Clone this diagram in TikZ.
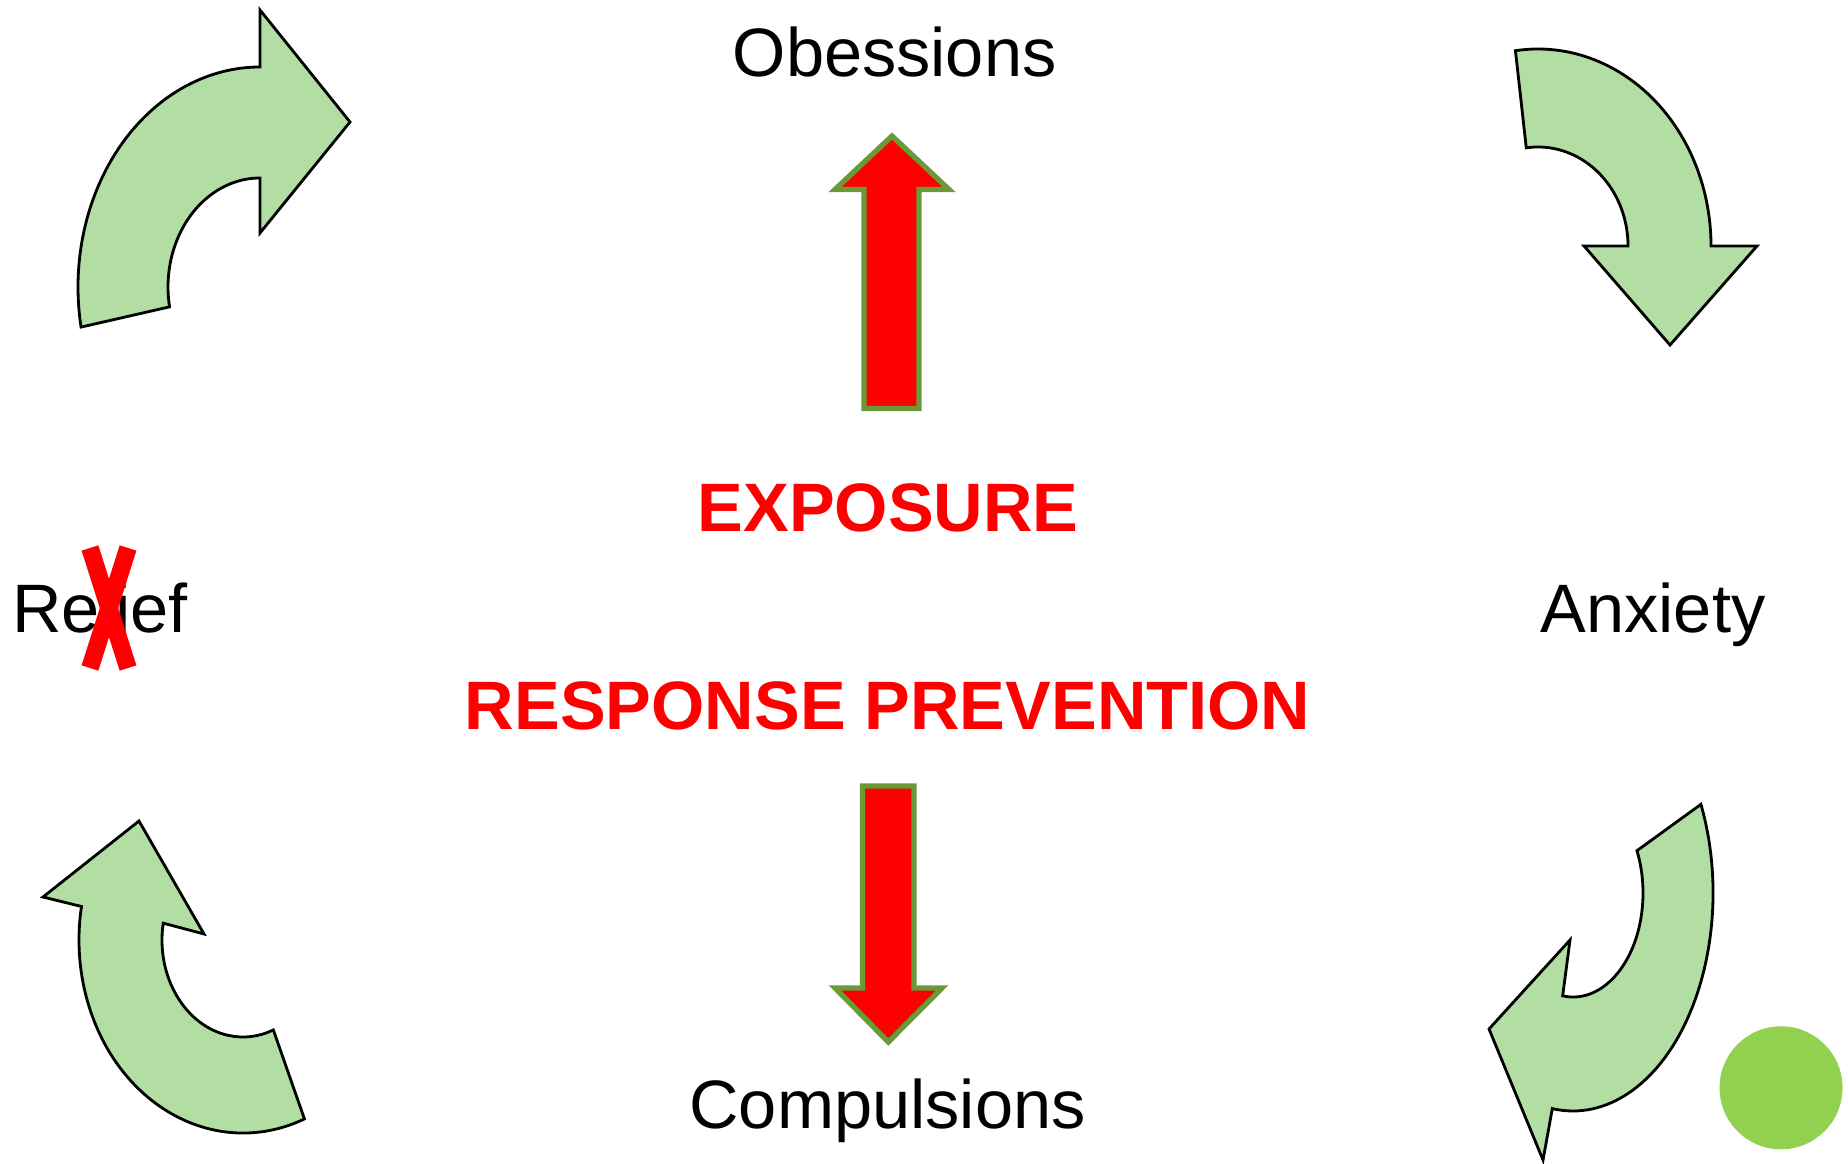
\documentclass[tikz,border=0pt]{standalone}
\usepackage{fontspec}
\setmainfont{Liberation Sans}
\usepackage{tikz}
\usetikzlibrary{calc}

\definecolor{loopgreen}{RGB}{178,222,163}
\definecolor{dotgreen}{RGB}{146,208,80}
\definecolor{rimgreen}{RGB}{107,153,56}

\begin{document}
\begin{tikzpicture}[
	looparrow/.style={fill=loopgreen, draw=black, line width=0.8pt, line join=miter},
	redarrow/.style={fill=red, draw=rimgreen, line width=1.5pt, line join=miter},
	word/.style={font=\fontsize{19.5pt}{23pt}\selectfont, anchor=base, inner sep=0pt},
	redword/.style={word, font=\fontsize{19.5pt}{23pt}\selectfont\bfseries, text=red}
	]
	        \useasboundingbox (0,0) rectangle (18.48,11.63);
	        \coordinate (C1) at (2.60,8.76); % top left loop
	        \coordinate (C2) at (15.38,9.17); % top right loop
	        \coordinate (C3) at (2.43,2.23); % bottom left loop
	        \coordinate (C4) at (15.73,2.70); % bottom right loop
	        \draw[looparrow] ($(C1)+(190.5:1.82 and 2.20)$) arc[start angle=190.5, end angle=90, x radius=1.82, y radius=2.20]
	            -- (2.60,11.53) -- (3.50,10.41) -- (2.60,9.30)
	            -- ($(C1)+(90:0.92 and 1.09)$) arc[start angle=90, end angle=190.5, x radius=0.92, y radius=1.09] -- cycle;
	        \draw[looparrow] ($(C2)+(97.5:1.73 and 1.97)$) arc[start angle=97.5, end angle=0, x radius=1.73, y radius=1.97]
	            -- (17.57,9.17) -- (16.70,8.18) -- (15.84,9.17)
	            -- ($(C2)+(0:0.90 and 0.99)$) arc[start angle=0, end angle=97.5, x radius=0.90, y radius=0.99] -- cycle;
	        \draw[looparrow] ($(C3)+(-68:1.64 and 1.93)$) arc[start angle=-68, end angle=-190, x radius=1.64, y radius=1.93]
	            -- (0.43,2.66) -- (1.39,3.42) -- (2.04,2.29)
	            -- ($(C3)+(-190:0.81 and 0.97)$) arc[start angle=-190, end angle=-68, x radius=0.81, y radius=0.97] -- cycle;
	        \draw[looparrow] ($(C4)+(24:1.40 and 2.18)$) arc[start angle=24, end angle=-98.5, x radius=1.40, y radius=2.18]
	            -- (15.43,0.03) -- (14.89,1.34) -- (15.70,2.23)
	            -- ($(C4)+(-98.5:0.70 and 1.04)$) arc[start angle=-98.5, end angle=24, x radius=0.70, y radius=1.04] -- cycle;
	        \draw[redarrow] (8.64,7.545) -- (8.64,9.735) -- (8.35,9.735) -- (8.92,10.27) -- (9.49,9.735) -- (9.19,9.735) -- (9.19,7.545) -- cycle; % up
	        \draw[redarrow] (8.625,3.77) -- (8.625,1.75) -- (8.35,1.75) -- (8.883,1.21) -- (9.42,1.75) -- (9.14,1.75) -- (9.14,3.77) -- cycle; % down
	        \node[word] (obsessions) at (8.946,10.865) {Obessions};
	        \node[word] (anxiety) at (16.53,5.30) {Anxiety};
	        \node[word] (compulsions) at (8.875,0.35) {Compulsions};
	        \node[word] (relief) at (1.00,5.30) {Relief};
	        \node[redword] (exposure) at (8.88,6.31) {EXPOSURE};
	        \node[redword] (prevention) at (8.876,4.34) {RESPONSE PREVENTION};
	        \draw[red, line width=5pt] (0.90,6.15) -- (1.28,4.95) (1.28,6.15) -- (0.90,4.95); % crossed out
	        \fill[dotgreen] (17.81,0.752) circle[radius=0.615];
	    \end{tikzpicture}
\end{document}
